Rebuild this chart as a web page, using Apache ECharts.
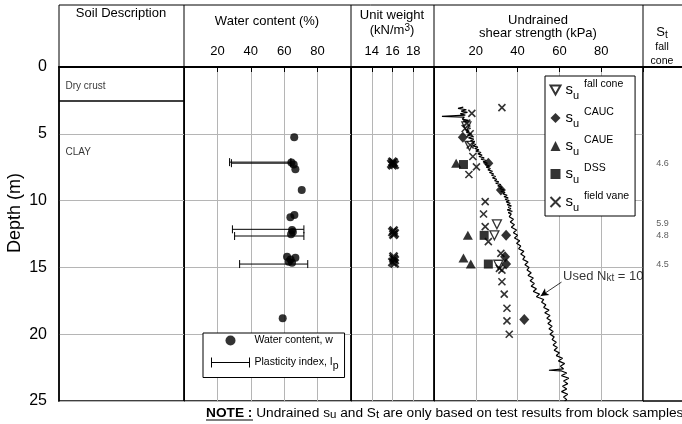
<!DOCTYPE html>
<html><head><meta charset="utf-8">
<script src="https://cdn.jsdelivr.net/npm/echarts@6/dist/echarts.min.js"></script>
<style>html,body{margin:0;padding:0;background:#fff;overflow:hidden}#c{width:682px;height:424px}</style>
</head><body><div id="c"></div>
<script>
// ---------------- DATA ----------------
const depthTicks = [0, 5, 10, 15, 20, 25];
const soilLayerNames = ['Dry crust', 'CLAY'];
const soilLabelDepths = [1.42, 6.4];
const soilBoundaries = [2.5];

// water content [w %, depth m]
const waterContent = [[66,5.26],[64.3,7.15],[65.7,7.3],[66.7,7.65],[70.5,9.2],[63.7,11.25],[66.1,11.08],
  [64.7,12.2],[64.1,12.52],[65.2,12.35],[61.7,14.2],[66.7,14.27],[62.7,14.57],[64.7,14.65],[63.8,14.4],[59.1,18.8]];
// plasticity bars [wP, wL, depth]
const plasticityBars = [[27.3,64,7.12],[28.4,64,7.2],[29,71.8,12.15],[30.3,71.8,12.65],[33.3,74.1,14.75]];

// unit weight [kN/m3, depth]
const unitWeight = [[16.0,7.1],[16.2,7.3],[15.9,7.25],[16.1,7.15],[16.0,7.35],
  [16.1,12.25],[16.2,12.45],[16.0,12.35],[16.1,12.55],
  [16.1,14.2],[16.2,14.45],[16.0,14.6],[16.1,14.35],[16.2,14.7]];

// CPTU derived su (Nkt = 10)
const cptDepth = [3.0,3.1,3.2,3.3,3.4,3.5,3.6,3.7,3.75,3.9,4.0,4.1,4.2,4.3,4.4,4.5,4.6,4.7,4.8,4.9,5.0,5.1,5.2,5.3,5.4,5.5,5.6,5.7,5.8,5.9,
  6.0,6.1,6.2,6.3,6.4,6.5,6.6,6.7,6.8,6.9,7.0,7.1,7.2,7.3,7.4,7.5,7.6,7.7,7.8,7.9,8.0,8.1,8.2,8.3,8.4,8.5,8.6,8.7,8.8,8.9,
  9.0,9.1,9.2,9.3,9.4,9.5,9.6,9.7,9.8,9.9,10.0,10.1,10.2,10.3,10.4,10.5,10.6,10.7,10.8,10.9,11.0,11.2,11.4,11.6,11.8,12.0,
  12.2,12.4,12.6,12.8,13.0,13.2,13.4,13.6,13.8,14.0,14.2,14.4,14.6,14.8,15.0,15.2,15.4,15.6,15.8,16.0,16.2,16.4,16.6,16.8,
  17.0,17.2,17.4,17.6,17.8,18.0,18.2,18.4,18.6,18.8,19.0,19.2,19.4,19.6,19.8,20.0,20.2,20.4,20.6,20.8,21.0,21.2,21.4,21.6,
  21.8,22.0,22.2,22.4,22.6,22.7,22.75,22.9,23.1,23.3,23.5,23.7,23.9,24.1,24.3,24.5,24.7,24.9,25.0];
const cptSu = [14,11.5,15.5,13,16,12.5,15,3.8,14.5,13.5,16.5,14,17,14.5,16,14.8,17.5,15.2,16.8,15.5,18,16,18.5,16.5,19,17.5,19.5,18,20,18.5,
  21,19.5,21.5,20,22.5,21,23,21.5,24,22.5,25,23.5,25.5,24.5,26.5,25,27,25.8,28,26.5,28.5,27.5,29.5,28,30,29,31,29.5,32,30.5,
  32.5,31.5,33.5,32,34,33,35,33.5,35.5,34,36,34.5,36.5,35,37,35.5,36.8,35,37.5,35.5,37,36,38,36.5,38.5,37,
  39.5,38,40,38.5,41,39.5,41.5,40.5,43,41.5,43.5,42.5,45,43.5,45.5,44.5,46.5,45,47.5,46,48,46.5,49,47.5,
  50.5,49,52.5,51.5,53.5,52.5,55,53,55.5,54,56,54.5,56.5,55,57,55.5,57.5,56.5,58.5,57,59,57.5,60,58.5,
  61.5,59.5,62.5,60.5,62,55,61,63.5,61,64.5,62,64,61.5,63.5,61,64,62,63.5,62.5];

const suFallCone = [[15.5,4.45],[17,5.9],[30.1,11.78],[28.9,12.6],[30.8,14.8]];
const suCAUC = [[13.8,5.25],[26,7.2],[32,9.2],[34.5,12.6],[34,14.2],[34.5,14.75],[43.2,18.9]];
const suCAUE = [[10.6,7.2],[16.2,12.6],[14.1,14.3],[17.6,14.75]];
const suDSS = [[14.1,7.3],[24,12.6],[26,14.75]];
const suVane = [[32.5,3.04],[18.1,3.47],[15.7,4.2],[14.9,4.6],[17.3,5.0],[17.3,5.84],[18.6,6.7],[20.3,7.48],[16.7,8.05],
  [24.5,10.08],[23.7,11.0],[24.5,11.95],[26,13.07],[32,13.95],[32.5,15.2],[31.3,15.07],[32.5,16.07],[33.6,17.0],[34.9,18.06],[34.9,19.0],[36,20.0]];

const nktNote = [[61.5,15.68,'Used N{sub|kt} = 10']];
const nktArrow = [[61,16.1],[51,17.15]];

const stDepths = [7.25, 11.75, 12.6, 14.8];
const stValues = ['4.6', '5.9', '4.8', '4.5'];

// ---------------- LAYOUT ----------------
const FONT = '"Liberation Sans", Arial, sans-serif';
const cols = [[59,184],[184,351],[351,434],[434,643],[643,682]];
const TOP = 67, HEADER_TOP = 5, PLOT_H = 334, BOT = 401;
const GRID_C = '#b5b5b5';
const crossPath = 'path://M0,0L10,10M10,0L0,10';
const downTri = 'path://M0,0L10,0L5,9Z';

const grids = cols.map((c,i) => ({left: c[0], top: TOP, width: c[1]-c[0], height: PLOT_H, show: i < 4,
  borderColor: '#000', borderWidth: 1.3, backgroundColor: 'transparent'}));

function valX(i, min, max, interval, showLabels) {
  return {type: 'value', gridIndex: i, position: 'top', min, max, interval,
    axisLine: {show: i < 4, lineStyle: {color: '#000', width: 2}},
    axisTick: {show: showLabels, inside: true, length: 5, lineStyle: {color: '#000'}},
    axisLabel: {show: showLabels, margin: 9, fontSize: 13, color: '#000', fontFamily: FONT,
      formatter: v => (v > min && v < max) ? String(v) : ''},
    splitLine: {show: showLabels, lineStyle: {color: GRID_C, width: 1}}};
}
const xAxes = [valX(0,0,1,1,false), valX(1,0,100,20,true), valX(2,12,20,2,true), valX(3,0,100,20,true), valX(4,0,1,1,false)];
const yAxes = cols.map((c,i) => ({type: 'value', gridIndex: i, inverse: true, min: 0, max: 25, interval: 5,
  axisLine: {show: i < 4, lineStyle: {color: '#000', width: i === 0 ? 1.5 : 1}},
  axisTick: {show: false},
  axisLabel: {show: i === 0, fontSize: 16, color: '#000', margin: 12, fontFamily: FONT},
  splitLine: {show: i < 4, lineStyle: {color: GRID_C, width: 1}}}));

const series = [
  {type: 'scatter', name: 'soil', xAxisIndex: 0, yAxisIndex: 0, symbolSize: 1, itemStyle: {color: 'transparent'},
   data: soilLabelDepths.map((d,i) => [0, d, soilLayerNames[i]]),
   label: {show: true, position: 'right', distance: 6, formatter: p => p.data[2], fontSize: 10, color: '#000', fontFamily: FONT},
   markLine: {silent: true, symbol: 'none', label: {show: false}, lineStyle: {color: '#000', width: 1.5, type: 'solid'},
     data: soilBoundaries.map(d => ({yAxis: d}))}},
  {type: 'custom', name: 'Plasticity index', xAxisIndex: 1, yAxisIndex: 1, data: plasticityBars,
   encode: {x: [0,1], y: 2},
   renderItem: (params, api) => {
     const a = api.coord([api.value(0), api.value(2)]);
     const b = api.coord([api.value(1), api.value(2)]);
     const st = {stroke: '#000', lineWidth: 1};
     return {type: 'group', children: [
       {type: 'line', shape: {x1: a[0], y1: a[1], x2: b[0], y2: b[1]}, style: st},
       {type: 'line', shape: {x1: a[0], y1: a[1]-4, x2: a[0], y2: a[1]+4}, style: st},
       {type: 'line', shape: {x1: b[0], y1: b[1]-4, x2: b[0], y2: b[1]+4}, style: st}]};
   }},
  {type: 'scatter', name: 'Water content, w', xAxisIndex: 1, yAxisIndex: 1, data: waterContent, symbol: 'circle', symbolSize: 8,
   itemStyle: {color: '#000'}, z: 5},
  {type: 'scatter', name: 'uw', xAxisIndex: 2, yAxisIndex: 2, data: unitWeight, symbol: crossPath, symbolSize: 8,
   itemStyle: {color: 'none', borderColor: '#000', borderWidth: 2.4}},
  {type: 'line', name: 'cptu', xAxisIndex: 3, yAxisIndex: 3, data: cptDepth.map((d,i) => [cptSu[i], d]),
   showSymbol: false, symbol: 'none', lineStyle: {color: '#000', width: 1.2}, z: 3,
   markLine: {silent: true, symbol: ['none','arrow'], symbolSize: [6, 8], label: {show: false},
     lineStyle: {color: '#000', width: 0.8, type: 'solid'},
     data: [[{coord: nktArrow[0]}, {coord: nktArrow[1]}]]}},
  {type: 'scatter', name: 'nkt', xAxisIndex: 3, yAxisIndex: 3, data: nktNote, symbolSize: 1, itemStyle: {color: 'transparent'},
   label: {show: true, position: 'right', distance: 0, formatter: p => p.data[2], color: '#000', fontSize: 13, fontFamily: FONT,
     rich: {sub: {fontSize: 10, verticalAlign: 'bottom', lineHeight: 11, fontFamily: FONT, color: '#000'}}}},
  {type: 'scatter', name: 'fall cone', xAxisIndex: 3, yAxisIndex: 3, data: suFallCone, symbol: downTri, symbolSize: 9,
   itemStyle: {color: '#fff', borderColor: '#000', borderWidth: 1.3}, z: 6},
  {type: 'scatter', name: 'CAUC', xAxisIndex: 3, yAxisIndex: 3, data: suCAUC, symbol: 'diamond', symbolSize: [10,11],
   itemStyle: {color: '#000'}, z: 6},
  {type: 'scatter', name: 'CAUE', xAxisIndex: 3, yAxisIndex: 3, data: suCAUE, symbol: 'triangle', symbolSize: [10,9],
   itemStyle: {color: '#000'}, z: 6},
  {type: 'scatter', name: 'DSS', xAxisIndex: 3, yAxisIndex: 3, data: suDSS, symbol: 'rect', symbolSize: 9,
   itemStyle: {color: '#000'}, z: 6},
  {type: 'scatter', name: 'field vane', xAxisIndex: 3, yAxisIndex: 3, data: suVane, symbol: crossPath, symbolSize: 7,
   itemStyle: {color: 'none', borderColor: '#000', borderWidth: 1.6}, z: 6},
  {type: 'scatter', name: 'St', xAxisIndex: 4, yAxisIndex: 4, data: stDepths.map((d,i) => [0.5, d, stValues[i]]),
   symbolSize: 1, itemStyle: {color: 'transparent'},
   label: {show: true, position: 'inside', formatter: p => p.data[2], fontSize: 9, color: '#333', fontFamily: FONT}}
];

const legendRich = {
  s: {fontSize: 15, lineHeight: 22, fontFamily: FONT, color: '#000'},
  u: {fontSize: 11, lineHeight: 12, verticalAlign: 'bottom', fontFamily: FONT, color: '#000'},
  p: {fontSize: 10.5, lineHeight: 10, verticalAlign: 'top', padding: [0,0,0,5], fontFamily: FONT, color: '#000'}
};

const legends = [
  {orient: 'vertical', left: 545, top: 76, itemWidth: 10, itemHeight: 10, itemGap: 6, padding: [3, 6, 3, 3],
   backgroundColor: '#fff', borderColor: '#000', borderWidth: 1, borderRadius: 0, selectedMode: false,
   data: ['fall cone','CAUC','CAUE','DSS','field vane'],
   formatter: n => '{s|s}{u|u}{p|' + n + '}',
   textStyle: {rich: legendRich}},
  {orient: 'vertical', left: 203, top: 333, itemWidth: 38, itemHeight: 10, itemGap: 9, padding: [2, 6, 6, 6],
   backgroundColor: '#fff', borderColor: '#000', borderWidth: 1, borderRadius: 0, selectedMode: false,
   data: [{name: 'Water content, w', icon: 'circle', itemStyle: {color: '#000'}},
          {name: 'Plasticity index', icon: 'path://M0,0L0,10M0,5L38,5M38,0L38,10',
           itemStyle: {color: 'none', borderColor: '#000', borderWidth: 1}}],
   formatter: n => n === 'Plasticity index' ? '{t|Plasticity index, I}{b|p}' : '{t|' + n + '}',
   textStyle: {rich: {t: {fontSize: 10.5, lineHeight: 18, fontFamily: FONT, color: '#000'},
     b: {fontSize: 10.5, lineHeight: 12, verticalAlign: 'bottom', fontFamily: FONT, color: '#000'}}}}
];

function txt(x, y, text, size, extra) {
  return Object.assign({type: 'text', x, y, silent: true, z: 20,
    style: Object.assign({text, fontSize: size, fontFamily: FONT, fill: '#000', align: 'center', verticalAlign: 'middle'}, extra || {})});
}
function ln(x1, y1, x2, y2, w) {
  return {type: 'line', silent: true, z: 10, shape: {x1, y1, x2, y2}, style: {stroke: '#000', lineWidth: w}};
}
const graphic = [];
// header frame (open at the right page edge)
graphic.push(ln(cols[0][0], HEADER_TOP, 682, HEADER_TOP, 1));
cols.forEach(c => graphic.push(ln(c[0], HEADER_TOP, c[0], TOP, 1)));
// St column frame lines (no right edge)
graphic.push(ln(cols[4][0], TOP, 682, TOP, 2));
graphic.push(ln(cols[4][0], BOT, 682, BOT, 1.3));
graphic.push(ln(cols[4][0], TOP, cols[4][0], BOT, 1));
graphic.push(txt(121, 13.5, 'Soil Description', 13));
graphic.push(txt(267, 21, 'Water content (%)', 13));
graphic.push(txt(392, 15, 'Unit weight', 13));
graphic.push(txt(392, 30, '(kN/m{sup|3})', 13, {rich: {sup: {fontSize: 10, verticalAlign: 'top', lineHeight: 10, fontFamily: FONT}}}));
graphic.push(txt(538, 20, 'Undrained', 13));
graphic.push(txt(538, 33, 'shear strength (kPa)', 13));
graphic.push(txt(662, 32, '{S|S}{t|t}', 13, {rich: {S: {fontSize: 13, lineHeight: 16, fontFamily: FONT}, t: {fontSize: 10, lineHeight: 10, verticalAlign: 'bottom', fontFamily: FONT}}}));
graphic.push(txt(662, 47, 'fall', 10.5));
graphic.push(txt(662, 61, 'cone', 10.5));
graphic.push(Object.assign(txt(15, 213, 'Depth (m)', 18), {rotation: Math.PI / 2}));
graphic.push(txt(206, 413, '{n|NOTE :}{r| Undrained s}{b|u}{r| and S}{b|t}{r| are only based on test results from block samples}', 13.7,
  {align: 'left', rich: {n: {fontSize: 13.7, fontWeight: 'bold', fontFamily: FONT, lineHeight: 16},
    r: {fontSize: 13.7, fontFamily: FONT, lineHeight: 16},
    b: {fontSize: 11.5, fontFamily: FONT, lineHeight: 10, verticalAlign: 'bottom'}}}));
graphic.push(ln(206, 420, 253, 420, 1.2));

const chart = echarts.init(document.getElementById('c'), null, {renderer: 'canvas'});
chart.setOption({animation: false, backgroundColor: '#fff', textStyle: {fontFamily: FONT},
  grid: grids, xAxis: xAxes, yAxis: yAxes, series, legend: legends, graphic});
</script></body></html>
